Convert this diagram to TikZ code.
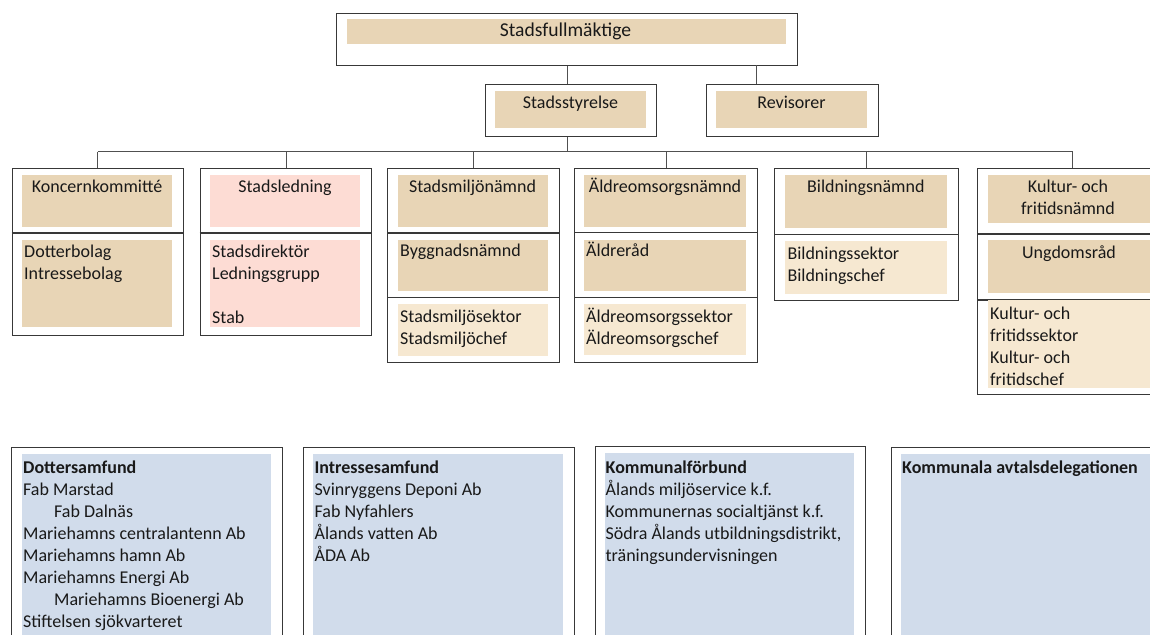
\documentclass[tikz,border=0pt]{standalone}
\usepackage{fontspec}
\setmainfont{Carlito}
\usetikzlibrary{positioning}
\definecolor{tanfill}{HTML}{E8D5B6}
\definecolor{lightfill}{HTML}{F6E8D1}
\definecolor{pinkfill}{HTML}{FDDCD4}
\definecolor{bluefill}{HTML}{D1DCEB}
\definecolor{boxline}{HTML}{383838}
\definecolor{linkline}{HTML}{505050}
\newcommand{\fs}{\fontsize{18}{22}\selectfont}
\tikzset{
	unit/.style={draw=boxline,line width=1.1pt,inner sep=0pt,anchor=north west},
	panel/.style={inner sep=0pt,anchor=north west},
	head/.style={inner sep=0pt,anchor=north,font=\fs,align=center,text=black!90},
	body/.style={inner sep=0pt,anchor=north west,font=\fs,align=left,text=black!90},
	link/.style={draw=linkline,line width=0.9pt},
	divider/.style={draw=boxline,line width=1.1pt},
}
\begin{document}
\begin{tikzpicture}[x=1pt,y=-1pt]
\useasboundingbox (0,0) rectangle (1150,634);
\clip (0,0) rectangle (1150,634);

% top level
\node (sf) at (336,13) [unit,minimum width=461pt,minimum height=52pt] {};
\node (sfA) at (347,19) [panel,fill=tanfill,minimum width=439pt,minimum height=25pt] {};
\node (sft) at (565.5,20) [head,font=\fontsize{19.6}{24}\selectfont] {\strut Stadsfullmäktige};

\node (ss) at (485,84) [unit,minimum width=171pt,minimum height=52pt] {};
\node (ssA) at (495,91) [panel,fill=tanfill,minimum width=151pt,minimum height=37pt] {};
\node (sst) at (570.5,93) [head] {\strut Stadsstyrelse};

\node (rv) at (706,84) [unit,minimum width=172pt,minimum height=52pt] {};
\node (rvA) at (716,91) [panel,fill=tanfill,minimum width=151pt,minimum height=37pt] {};
\node (rvt) at (791.5,93) [head] {\strut Revisorer};

% boards
\node (kk) at (11.5,168.3) [unit,minimum width=171.5pt,minimum height=166.4pt] {};
\node (sl) at (199.7,168.3) [unit,minimum width=171.6pt,minimum height=166.4pt] {};
\node (smn) at (387.3,168.3) [unit,minimum width=171.7pt,minimum height=193.7pt] {};
\node (aon) at (574,168.3) [unit,minimum width=183pt,minimum height=193.7pt] {};
\node (bn) at (774.3,168.3) [unit,minimum width=183.4pt,minimum height=131.7pt] {};
\node (kfn) at (977.3,168.3) [unit,minimum width=190pt,minimum height=226pt] {};

\draw[divider] (kk.west |- 0,233) -- (kk.east |- 0,233);
\draw[divider] (sl.west |- 0,233) -- (sl.east |- 0,233);
\draw[divider] (smn.west |- 0,233) -- (smn.east |- 0,233);
\draw[divider] (smn.west |- 0,297.3) -- (smn.east |- 0,297.3);
\draw[divider] (aon.west |- 0,232.5) -- (aon.east |- 0,232.5);
\draw[divider] (aon.west |- 0,297.3) -- (aon.east |- 0,297.3);
\draw[divider] (bn.west |- 0,234.3) -- (bn.east |- 0,234.3);
\draw[divider] (kfn.west |- 0,234) -- (kfn.east |- 0,234);
\draw[divider] (kfn.west |- 0,300) -- (kfn.east |- 0,300);

\node (kkA) at (22,175) [panel,fill=tanfill,minimum width=150pt,minimum height=51.7pt] {};
\node (kkB) at (22,239.3) [panel,fill=tanfill,minimum width=150pt,minimum height=87.4pt] {};
\node (slA) at (210,175) [panel,fill=pinkfill,minimum width=150pt,minimum height=51.7pt] {};
\node (slB) at (210,239.3) [panel,fill=pinkfill,minimum width=150pt,minimum height=87.4pt] {};
\node (smnA) at (397.3,175) [panel,fill=tanfill,minimum width=150.4pt,minimum height=51.7pt] {};
\node (smnB) at (397.3,239.3) [panel,fill=tanfill,minimum width=150.4pt,minimum height=51.4pt] {};
\node (smnC) at (397.3,304) [panel,fill=lightfill,minimum width=150.4pt,minimum height=51.7pt] {};
\node (aonA) at (584,175) [panel,fill=tanfill,minimum width=162pt,minimum height=51.7pt] {};
\node (aonB) at (584,239.3) [panel,fill=tanfill,minimum width=162pt,minimum height=51.4pt] {};
\node (aonC) at (584,303.3) [panel,fill=lightfill,minimum width=162pt,minimum height=51.4pt] {};
\node (bnA) at (785,175) [panel,fill=tanfill,minimum width=161.7pt,minimum height=52.7pt] {};
\node (bnB) at (785,241) [panel,fill=lightfill,minimum width=161.7pt,minimum height=52.3pt] {};
\node (kfnA) at (988,175) [panel,fill=tanfill,minimum width=170pt,minimum height=47.7pt] {};
\node (kfnB) at (988,240) [panel,fill=tanfill,minimum width=170pt,minimum height=52.7pt] {};
\node (kfnC) at (988,300) [panel,fill=lightfill,minimum width=170pt,minimum height=87.7pt] {};

\node (kkt) at (97,177) [head] {\strut Koncernkommitté};
\node (kkb) at (24,241.8) [body] {\strut Dotterbolag\\Intressebolag};
\node (slt) at (285,177) [head] {\strut Stadsledning};
\node (slb) at (212,241.8) [body] {\strut Stadsdirektör\\Ledningsgrupp\\[22pt]Stab};
\node (smnt) at (472.5,177) [head] {\strut Stadsmiljönämnd};
\node (smnb) at (400,241) [body] {\strut Byggnadsnämnd};
\node (smnc) at (400,306.8) [body] {\strut Stadsmiljösektor\\Stadsmiljöchef};
\node (aont) at (665,177) [head] {\strut Äldreomsorgsnämnd};
\node (aonb) at (586,241) [body] {\strut Äldreråd};
\node (aonc) at (586,306.8) [body] {\strut Äldreomsorgssektor\\Äldreomsorgschef};
\node (bnt) at (865.8,177) [head] {\strut Bildningsnämnd};
\node (bnb) at (787.3,243.4) [body] {\strut Bildningssektor\\Bildningschef};
\node (kfnt) at (1068,177) [head] {\strut Kultur- och\\fritidsnämnd};
\node (kfnu) at (1069,242.4) [head] {\strut Ungdomsråd};
\node (kfnb) at (990,304) [body] {\strut Kultur- och\\fritidssektor\\Kultur- och\\fritidschef};

% connectors
\coordinate (rvtap) at (756,65);
\coordinate (busL) at (kk.north |- 0,151.7);
\coordinate (busR) at (kfn.north |- busL);
\draw[link] (sf.south) -- (sf.south |- ss.north);
\draw[link] (rvtap) -- (rvtap |- rv.north);
\draw[link] (sf.south |- ss.south) -- (sf.south |- busL);
\draw[link] (busL) -- (busR);
\foreach \n in {kk,sl,smn,aon,bn,kfn}
	\draw[link] (\n.north |- busL) -- (\n.north);

% owned and joint bodies
\node (ds) at (11,446.7) [unit,minimum width=271pt,minimum height=250pt] {};
\node (dsA) at (21.5,454) [panel,fill=bluefill,minimum width=249.5pt,minimum height=250pt] {};
\node (dsb) at (23,457.8) [body] {\strut\textbf{Dottersamfund}\\Fab Marstad\\\hspace*{31pt}Fab Dalnäs\\Mariehamns centralantenn Ab\\Mariehamns hamn Ab\\Mariehamns Energi Ab\\\hspace*{31pt}Mariehamns Bioenergi Ab\\Stiftelsen sjökvarteret};

\node (is) at (303,446.7) [unit,minimum width=270.7pt,minimum height=250pt] {};
\node (isA) at (313,454) [panel,fill=bluefill,minimum width=250pt,minimum height=250pt] {};
\node (isb) at (314.4,457.8) [body] {\strut\textbf{Intressesamfund}\\Svinryggens Deponi Ab\\Fab Nyfahlers\\Ålands vatten Ab\\ÅDA Ab};

\node (kf) at (594.8,446) [unit,minimum width=270pt,minimum height=250pt] {};
\node (kfA) at (604.4,452.7) [panel,fill=bluefill,minimum width=249.3pt,minimum height=250pt] {};
\node (kfb) at (605.5,457.8) [body] {\strut\textbf{Kommunalförbund}\\Ålands miljöservice k.f.\\Kommunernas socialtjänst k.f.\\Södra Ålands utbildningsdistrikt,\\träningsundervisningen};

\node (kad) at (890.5,447) [unit,minimum width=280pt,minimum height=250pt] {};
\node (kadA) at (900.3,454) [panel,fill=bluefill,minimum width=260pt,minimum height=250pt] {};
\node (kadb) at (902,457.8) [body] {\strut\textbf{Kommunala avtalsdelegationen}};
\end{tikzpicture}
\end{document}
